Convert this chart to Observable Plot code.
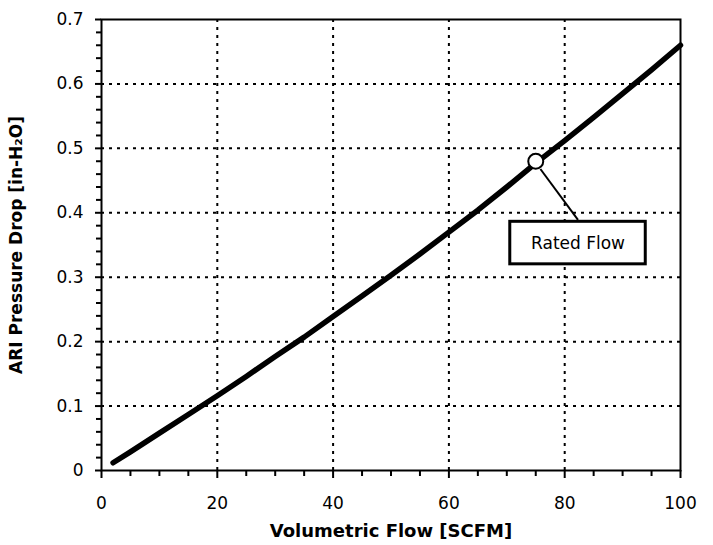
<!DOCTYPE html>
<html>
<head>
<meta charset="utf-8">
<script src="https://cdn.jsdelivr.net/npm/d3@7"></script>
<script src="https://cdn.jsdelivr.net/npm/@observablehq/plot@0.6"></script>
<style>
  html, body { margin: 0; padding: 0; background: #fff; }
  g[aria-label="x-axis label"] text, g[aria-label="y-axis label"] text { font-weight: bold; }
</style>
</head>
<body>
<div id="chart"></div>
<script>
// Data
const flow = [2, 5, 10, 15, 20, 25, 30, 35, 40, 45, 50, 55, 60, 65, 70, 75, 80, 85, 90, 95, 100];
const pressure = [0.012, 0.029, 0.058, 0.087, 0.116, 0.146, 0.177, 0.207, 0.239, 0.271, 0.303, 0.336, 0.370, 0.404, 0.440, 0.477, 0.512, 0.548, 0.585, 0.622, 0.660];
const xMajorTicks = [0, 20, 40, 60, 80, 100];
const xMinorTicks = [5, 10, 15, 25, 30, 35, 45, 50, 55, 65, 70, 75, 85, 90, 95];
const yMajorTicks = [0, 0.1, 0.2, 0.3, 0.4, 0.5, 0.6, 0.7];
const yMinorTicks = d3.range(0, 71, 2).filter(v => v % 10 !== 0).map(v => v / 100);
const ratedFlow = {flow: 75, pressure: 0.48, label: "Rated Flow"};
// annotation box (data coordinates)
const labelBox = {x1: 70.6, x2: 94.0, y1: 0.32, y2: 0.386, cx: 82.3, cy: 0.352};
const leader = {x1: 75.8, y1: 0.468, x2: 82.3, y2: 0.389};

const curve = flow.map((f, i) => ({flow: f, pressure: pressure[i]}));

const chart = Plot.plot({
  width: 713,
  height: 545,
  marginLeft: 101,
  marginRight: 33,
  marginTop: 19,
  marginBottom: 75,
  style: {fontFamily: "DejaVu Sans", fontSize: "17px", color: "#000", background: "#fff"},
  x: {domain: [0, 100]},
  y: {domain: [0, 0.7]},
  marks: [
    Plot.gridX(xMajorTicks.slice(1, -1), {stroke: "#000", strokeOpacity: 1, strokeWidth: 2, strokeDasharray: "3,5"}),
    Plot.gridY(yMajorTicks.slice(1, -1), {stroke: "#000", strokeOpacity: 1, strokeWidth: 2, strokeDasharray: "3,5"}),
    Plot.axisX({ticks: xMinorTicks, tickSize: 6, text: null, label: null, strokeWidth: 2}),
    Plot.axisY({ticks: yMinorTicks, tickSize: 5, text: null, label: null, strokeWidth: 2}),
    Plot.axisX({ticks: xMajorTicks, tickSize: 8, tickPadding: 18, strokeWidth: 2, fontSize: 17,
      label: null}),
    Plot.axisX({ticks: [], fontSize: 18,
      label: "Volumetric Flow [SCFM]", labelAnchor: "center", labelArrow: "none", labelOffset: 66}),
    Plot.axisY({ticks: yMajorTicks, tickSize: 6, tickPadding: 12, strokeWidth: 2, fontSize: 17,
      tickFormat: d => d === 0 ? "0" : d3.format(".1f")(d), label: null}),
    Plot.axisY({ticks: [], fontSize: 17,
      label: "ARI Pressure Drop [in-H₂O]", labelAnchor: "center", labelArrow: "none", labelOffset: 92}),
    Plot.frame({stroke: "#000", strokeWidth: 2}),
    Plot.line(curve, {x: "flow", y: "pressure", stroke: "#000", strokeWidth: 5.5, strokeLinecap: "round"}),
    Plot.link([leader], {x1: "x1", y1: "y1", x2: "x2", y2: "y2", stroke: "#000", strokeWidth: 2}),
    Plot.dot([ratedFlow], {x: "flow", y: "pressure", r: 7.5, fill: "#fff", stroke: "#000", strokeWidth: 2}),
    Plot.rect([labelBox], {x1: "x1", x2: "x2", y1: "y1", y2: "y2", fill: "#fff", stroke: "#000", strokeWidth: 3}),
    Plot.text([labelBox], {x: "cx", y: "cy", text: () => ratedFlow.label, fontSize: 17, fill: "#000"})
  ]
});
document.getElementById("chart").appendChild(chart);
</script>
</body>
</html>
